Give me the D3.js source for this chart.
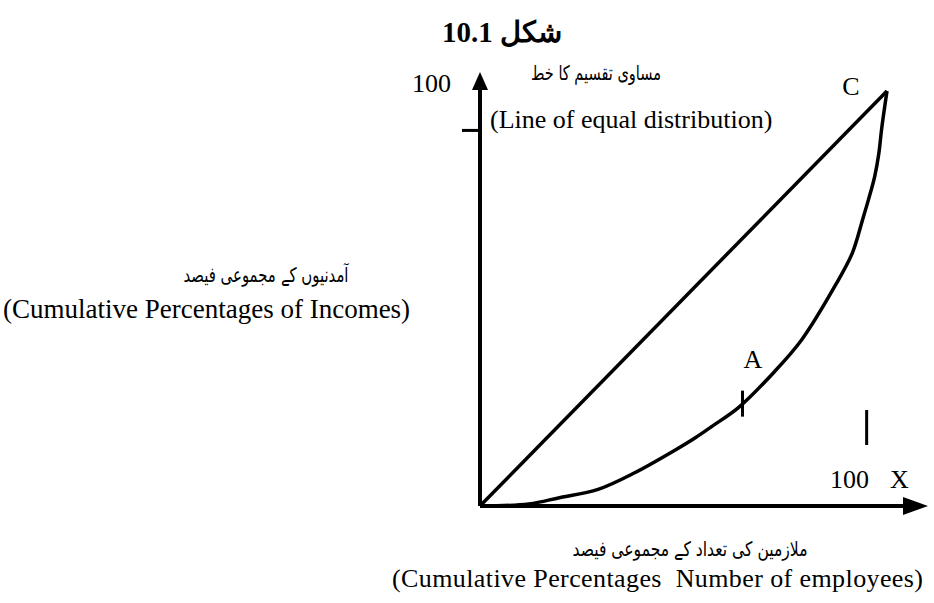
<!DOCTYPE html>
<html>
<head>
<meta charset="utf-8">
<script src="https://cdn.jsdelivr.net/npm/d3@7"></script>
<style>
  body { margin: 0; background: #fff; }
  svg { display: block; }
  .en { font-family: "Liberation Serif", "Times New Roman", serif; }
  .ur { font-family: "DejaVu Sans", sans-serif; }
</style>
</head>
<body>
<div id="chart"></div>
<script>
// cumulative % of employees (x) and cumulative % of incomes (y), Lorenz curve
var curveX = [0, 12, 19.5, 29, 38, 48, 53, 57, 63.5, 72, 79, 87.5, 91.5, 94, 95.5, 97, 98, 98.7, 100]
var curveY = [0, 0.5, 2, 4, 8, 13.5, 16.5, 19.2, 23.7, 32, 40, 53.5, 61, 69, 74, 79.5, 85, 91, 100]

// line of equal distribution
var equalX = [0, 100]
var equalY = [0, 100]

// small marks on the figure
var pointA = { x: 64.5, y: 23.7, label: "A" }
var pointC = { x: 100, y: 100, label: "C" }
var yMark = 90.5
var xMark = 95

var title = "شکل 10.1"
var topUrdu = "مساوی تقسیم کا خط"
var topEnglish = "(Line of equal distribution)"
var yUrdu = "آمدنیوں کے مجموعی فیصد"
var yEnglish = "(Cumulative Percentages of Incomes)"
var xUrdu = "ملازمین کی تعداد کے مجموعی فیصد"
var xEnglish = "(Cumulative Percentages  Number of employees)"

var width = 934, height = 603

let svg = d3.select("#chart").append("svg")
    .attr("width", width)
    .attr("height", height)

let x = d3.scaleLinear().domain([0, 100]).range([480, 887])
let y = d3.scaleLinear().domain([0, 100]).range([506, 91])

// axes: plain lines, no ticks, arrow at the end
svg.append("g")
    .attr("transform", "translate(0," + y(0) + ")")
    .call(d3.axisBottom(x).tickValues([]).tickSizeOuter(0))
    .call(g => g.select(".domain").attr("d", "M" + x(0) + ",0H" + (width - 20)).attr("stroke", "#000").attr("stroke-width", 4))

svg.append("g")
    .attr("transform", "translate(" + x(0) + ",0)")
    .call(d3.axisLeft(y).tickValues([]).tickSizeOuter(0))
    .call(g => g.select(".domain").attr("d", "M0," + y(0) + "V" + 85).attr("stroke", "#000").attr("stroke-width", 4))

// arrow heads
svg.append("path")
    .attr("d", "M" + (width - 6) + "," + y(0) + "L" + (width - 31) + "," + (y(0) - 9) + "L" + (width - 31) + "," + (y(0) + 9) + "Z")
    .attr("fill", "#000")
svg.append("path")
    .attr("d", "M" + x(0) + ",72L" + (x(0) - 8) + ",90L" + (x(0) + 8) + ",90Z")
    .attr("fill", "#000")

// line of equal distribution
let line = d3.line()
    .x(d => x(d[0]))
    .y(d => y(d[1]))

svg.append("path")
    .datum(d3.zip(equalX, equalY))
    .attr("d", line)
    .attr("fill", "none")
    .attr("stroke", "#000")
    .attr("stroke-width", 3.5)

// Lorenz curve
svg.append("path")
    .datum(d3.zip(curveX, curveY))
    .attr("d", line.curve(d3.curveCatmullRom))
    .attr("fill", "none")
    .attr("stroke", "#000")
    .attr("stroke-width", 3.5)
    .attr("stroke-linejoin", "round")

// tick marks
svg.append("line")
    .attr("x1", x(0) - 18).attr("x2", x(0))
    .attr("y1", y(yMark)).attr("y2", y(yMark))
    .attr("stroke", "#000").attr("stroke-width", 3)
svg.append("line")
    .attr("x1", x(pointA.x)).attr("x2", x(pointA.x))
    .attr("y1", y(pointA.y) - 17).attr("y2", y(pointA.y) + 9)
    .attr("stroke", "#000").attr("stroke-width", 3)
svg.append("line")
    .attr("x1", x(xMark)).attr("x2", x(xMark))
    .attr("y1", 410).attr("y2", 445)
    .attr("stroke", "#000").attr("stroke-width", 3)

// texts
svg.append("text").attr("class", "en")
    .attr("x", 502).attr("y", 42)
    .attr("text-anchor", "middle")
    .attr("font-size", 29).attr("font-weight", "bold")
    .attr("direction", "rtl")
    .text(title)

svg.append("text").attr("class", "en")
    .attr("x", 451).attr("y", 92)
    .attr("text-anchor", "end").attr("font-size", 26)
    .text("100")

// urdu captions are written in nastaliq in the original, which runs narrower
svg.append("text").attr("class", "ur")
    .attr("x", 596).attr("y", 80)
    .attr("text-anchor", "middle").attr("font-size", 20)
    .attr("textLength", 130).attr("lengthAdjust", "spacingAndGlyphs")
    .text(topUrdu)

svg.append("text").attr("class", "en")
    .attr("x", 490).attr("y", 128)
    .attr("font-size", 26)
    .text(topEnglish)

svg.append("text").attr("class", "en")
    .attr("x", 851).attr("y", 95)
    .attr("text-anchor", "middle").attr("font-size", 26)
    .text(pointC.label)

svg.append("text").attr("class", "en")
    .attr("x", 753).attr("y", 368)
    .attr("text-anchor", "middle").attr("font-size", 26)
    .text(pointA.label)

svg.append("text").attr("class", "en")
    .attr("x", 830).attr("y", 488)
    .attr("font-size", 26)
    .text("100")
svg.append("text").attr("class", "en")
    .attr("x", 890).attr("y", 488)
    .attr("font-size", 26)
    .text("X")

svg.append("text").attr("class", "ur")
    .attr("x", 266).attr("y", 282)
    .attr("text-anchor", "middle").attr("font-size", 20)
    .attr("textLength", 165).attr("lengthAdjust", "spacingAndGlyphs")
    .text(yUrdu)

svg.append("text").attr("class", "en")
    .attr("x", 3).attr("y", 318)
    .attr("font-size", 27)
    .text(yEnglish)

svg.append("text").attr("class", "ur")
    .attr("x", 690).attr("y", 556)
    .attr("text-anchor", "middle").attr("font-size", 20)
    .attr("textLength", 235).attr("lengthAdjust", "spacingAndGlyphs")
    .text(xUrdu)

svg.append("text").attr("class", "en")
    .attr("x", 392).attr("y", 587)
    .attr("font-size", 26)
    .attr("textLength", 531).attr("lengthAdjust", "spacing")
    .style("white-space", "pre")
    .text(xEnglish)
</script>
</body>
</html>
